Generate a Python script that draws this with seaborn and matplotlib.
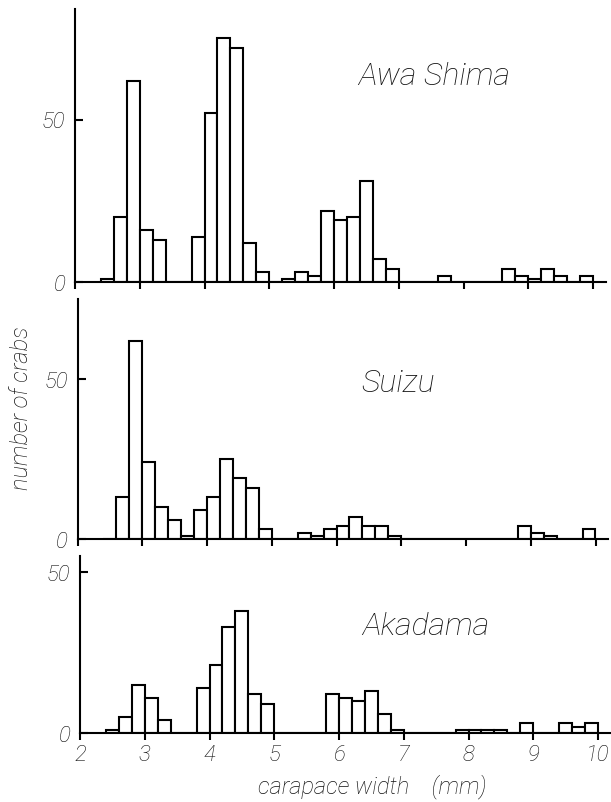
import numpy as np
import pandas as pd
import matplotlib
matplotlib.use("Agg")
import matplotlib.pyplot as plt
import seaborn as sns

# ---- data (counts per 0.2 mm carapace-width class, classes starting 2.4 ... 9.8 mm) ----
bin_starts = [2.4, 2.6, 2.8, 3.0, 3.2, 3.4, 3.6, 3.8, 4.0, 4.2, 4.4, 4.6, 4.8,
              5.0, 5.2, 5.4, 5.6, 5.8, 6.0, 6.2, 6.4, 6.6, 6.8, 7.0, 7.2, 7.4,
              7.6, 7.8, 8.0, 8.2, 8.4, 8.6, 8.8, 9.0, 9.2, 9.4, 9.6, 9.8]
bin_width = 0.2

awa_shima = [1, 20, 62, 16, 13, 0, 0, 14, 52, 75, 72, 12, 3,
             0, 1, 3, 2, 22, 19, 20, 31, 7, 4, 0, 0, 0,
             2, 0, 0, 0, 0, 4, 2, 1, 4, 2, 0, 2]
suizu = [0, 13, 62, 24, 10, 6, 1, 9, 13, 25, 19, 16, 3,
         0, 0, 2, 1, 3, 4, 7, 4, 4, 1, 0, 0, 0,
         0, 0, 0, 0, 0, 0, 4, 2, 1, 0, 0, 3]
akadama = [1, 5, 15, 11, 4, 0, 0, 14, 21, 33, 38, 12, 9,
           0, 0, 0, 0, 12, 11, 10, 13, 6, 1, 0, 0, 0,
           0, 1, 1, 1, 1, 0, 3, 0, 0, 3, 2, 3]

site_names = ["Awa Shima", "Suizu", "Akadama"]
x_ticks = [2, 3, 4, 5, 6, 7, 8, 9, 10]
y_ticks = [0, 50]
x_label = "carapace width    (mm)"
y_label = "number of crabs"

# ---- styling ----
sns.set_theme(style="white")
FONT = ["Roboto", "Lato", "DejaVu Sans"]
plt.rcParams["font.family"] = FONT
LW = 1.5
TXT = "#111111"
WEIGHT = "light"

fig = plt.figure(figsize=(6.11, 8.03), dpi=100)
W, H = 611.0, 803.0
ppm = 64.75  # pixels per mm

# panel geometry in pixels: (x of 2mm, baseline y, top y, ymax)
panels = [
    (75.0, 283.0, 10.0, 84),
    (77.5, 540.0, 300.0, 75),
    (80.0, 734.0, 557.0, 55),
]
series = [awa_shima, suizu, akadama]
title_pos = [(6.37, 61.0), (6.39, 46.3), (6.36, 30.7)]

centers = np.array(bin_starts) + bin_width / 2

tick_font = dict(family=FONT, style="italic", weight=WEIGHT, size=16, color=TXT)

for i, ((x0, yb, yt, ymax), counts, name) in enumerate(zip(panels, series, site_names)):
    df = pd.DataFrame({"width": centers, "count": np.array(counts, dtype=float)})
    width_px = (10.2 - 2.0) * ppm
    ax = fig.add_axes([x0 / W, (H - yb) / H, width_px / W, (yb - yt) / H])
    sns.histplot(data=df, x="width", weights="count",
                 binwidth=bin_width, binrange=(bin_starts[0], bin_starts[-1] + bin_width),
                 ax=ax, color="white", edgecolor="black", linewidth=LW, alpha=1.0,
                 element="bars", fill=True)
    ax.set_xlim(2.0, 10.2)
    ax.set_ylim(0, ymax)
    ax.set_xlabel("")
    ax.set_ylabel("")
    for s in ["top", "right"]:
        ax.spines[s].set_visible(False)
    for s in ["left", "bottom"]:
        ax.spines[s].set_color("black")
        ax.spines[s].set_linewidth(LW)
    ax.set_xticks(x_ticks)
    ax.set_yticks(y_ticks)
    ax.tick_params(axis="x", direction="out", length=5, width=LW, color="black",
                   labelbottom=(i == 2), pad=3, bottom=True)
    ax.tick_params(axis="y", direction="in", length=6, width=LW, color="black", pad=7, left=True)
    ax.set_yticklabels([str(v) for v in y_ticks], fontdict=tick_font)
    if i == 2:
        ax.set_xticklabels([str(v) for v in x_ticks], fontdict=tick_font)
    ax.text(title_pos[i][0], title_pos[i][1], name, ha="left", va="baseline",
            fontsize=23, style="italic", weight=WEIGHT, family=FONT, color=TXT)
    ax.patch.set_alpha(0)

fig.text(22 / W, 1 - 408 / H, y_label, rotation=90, ha="center", va="center",
         fontsize=17, style="italic", weight=WEIGHT, family=FONT, color=TXT)
fig.text(372 / W, 1 - 787 / H, x_label, ha="center", va="center",
         fontsize=17, style="italic", weight=WEIGHT, family=FONT, color=TXT)

fig.savefig("out.png", dpi=100, facecolor="white")
